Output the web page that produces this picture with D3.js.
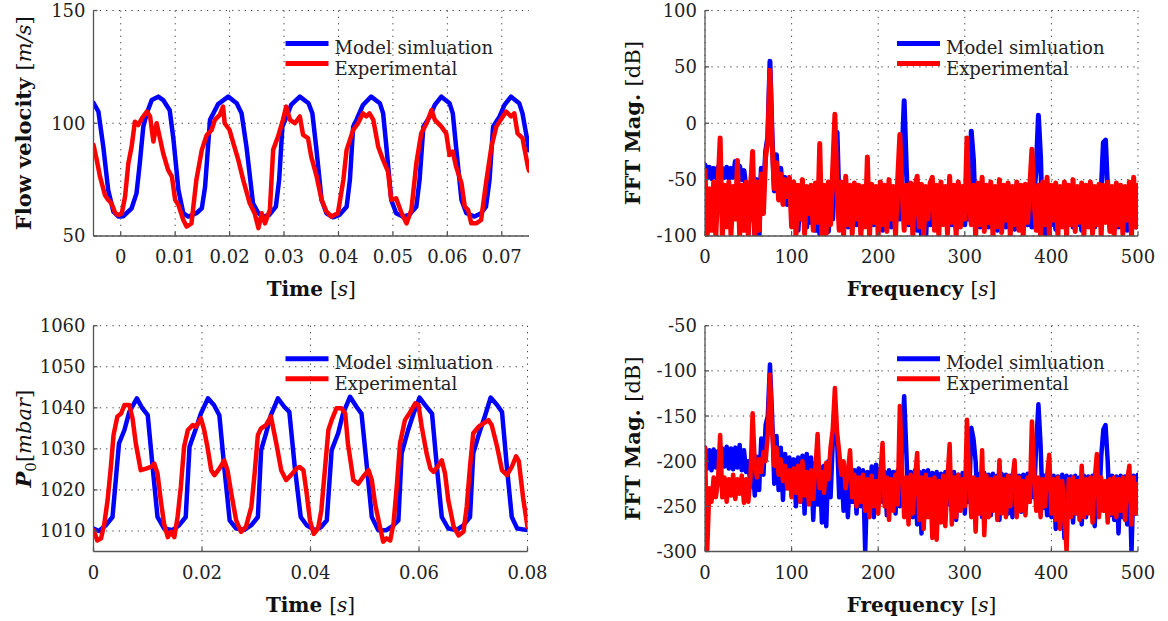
<!DOCTYPE html>
<html><head><meta charset="utf-8">
<script src="https://cdn.jsdelivr.net/npm/d3@7"></script>
<style>body{margin:0;background:#fff}svg{display:block}</style>
</head><body>
<div id="graph"></div>
<script>
"use strict"
// flow velocity traces, [time ms, m/s]
var velModel=[[-5,109],[-4.1,105.2],[-3.2,89.6],[-2.3,70.4],[-1.35,60.8],[-0.4,58.6],[0.5,58.8],[2,62.3],[2.9,68.9],[3.5,82.2],[4.15,98.5],[4.8,104.4],[5.7,110.3],[6.9,111.8],[7.8,110.3],[9,105.8],[9.7,92.6],[10.6,70.4],[11.5,60.1],[12.4,58.6],[13.9,60.1],[14.9,62.3],[15.5,71.9],[16.4,101.5],[17.9,108.5],[19.75,111.8],[21.3,108.9],[22.2,104.4],[23.1,89.6],[24.3,64.5],[25.3,60.1],[26.2,58.6],[27.3,59.4],[28.5,63],[29.1,74.9],[29.7,98.5],[30.4,102.5],[31.3,108.1],[32.9,111.8],[34.5,108.9],[35.2,104.4],[35.9,89.6],[36.9,66],[37.8,60.1],[39,58.3],[40.2,59.4],[41.5,63],[42.1,74.9],[42.7,98.5],[43.3,101.5],[44.5,108.1],[46,111.8],[47.6,108.9],[48.2,104.4],[48.8,89.6],[49.7,66],[50.6,60.1],[51.8,58.6],[53,59.4],[54.3,63],[54.9,74.9],[55.6,98.5],[56.8,103],[57.7,108.1],[58.9,111.8],[60.4,108.9],[61,104.4],[61.6,89.6],[62.6,66],[63.5,60.1],[65,58.6],[66.2,60.1],[67.1,63],[67.75,74.9],[68.4,98.5],[69.6,103],[70.5,108.1],[71.7,111.8],[73.2,108.9],[73.8,104.4],[74.8,91],[75,88]]
var velExp=[[-5,90.4],[-4.4,83.7],[-3.8,76.3],[-2.9,68.2],[-2.3,66],[-1.7,64.5],[-1,60.1],[-0.4,59.3],[0.2,60.1],[0.8,67.5],[1.4,82.2],[2,89.6],[2.6,100.7],[3.2,99.2],[3.9,102.2],[4.8,105.2],[5.4,103],[6,91.9],[6.6,100],[7.2,93.4],[7.8,86.7],[8.7,79.3],[9.4,76.3],[10,66],[10.6,63.7],[11.5,57.1],[12.1,54.2],[13,55.6],[13.9,74.9],[14.9,88.2],[15.8,94.8],[16.7,97],[17.3,101.5],[18.2,103.7],[18.8,107.4],[19.1,100],[20,97],[20.7,91.1],[21.6,83.7],[22.5,74.9],[23.7,64.5],[24.6,60.1],[25.3,53.5],[25.9,60.1],[26.5,55.6],[27.4,61.6],[28,88.2],[28.9,94.1],[29.8,101.5],[30.4,107.4],[31.1,101.5],[32,100],[32.9,103],[33.5,94.8],[34.4,93.4],[35,85.2],[36,76.3],[36.9,66],[37.8,60.8],[38.7,58.6],[39.9,60.1],[40.9,74.9],[41.5,88.2],[42.7,97],[43.6,100],[44.5,104.4],[45.1,103],[45.7,104.4],[46.4,101.5],[47.3,89.6],[48.2,83.7],[49.1,78.5],[49.7,66],[50.6,66.7],[51.6,60.1],[52.5,55.6],[53.4,61.6],[54.3,82.2],[55.2,95.5],[56.2,100],[57.1,105.9],[57.7,101.5],[58.9,98.5],[59.8,95.5],[60.4,85.9],[61,87.4],[61.6,80.8],[62.6,73.4],[63.2,63],[63.8,61.6],[64.4,55.6],[65.3,55.6],[66.2,57.1],[67.1,73.4],[68.1,89.6],[69,98.5],[70.2,103],[70.8,105.2],[71.7,103],[72.3,104.4],[72.9,95.5],[73.8,93.4],[74.8,80.8],[75,79]]

// P0 traces, [time ms, mbar]
var presModel=[[0,1010.6],[1,1010],[2.3,1011.4],[3.5,1013.4],[4.7,1031.3],[5.7,1034.6],[6.6,1039],[8,1042.3],[9,1039.9],[10,1038.2],[10.9,1025.6],[11.8,1013.4],[13,1010.6],[14.6,1010.2],[15.8,1011.4],[17,1013.4],[17.7,1030.5],[18.9,1035],[19.8,1038.6],[21.1,1042.3],[22.2,1040.7],[23.2,1038.2],[24.1,1025.6],[25.1,1012.6],[26.3,1010.6],[27.8,1010.3],[29.1,1011.4],[30.3,1013.4],[30.9,1029.7],[31.8,1033.8],[32.7,1038.2],[34,1042.3],[35.2,1040.2],[36.1,1039],[37.1,1025.6],[38.2,1013.4],[39.3,1011.4],[40.8,1010.2],[42,1011],[43,1012.6],[43.9,1029.7],[45.1,1033.8],[46,1038.6],[47.3,1042.7],[48.5,1040.2],[49.4,1038.6],[50.4,1025.6],[51.3,1013.4],[52.5,1010.2],[54,1010.2],[55.3,1011.4],[56.2,1012.6],[56.8,1028.9],[58,1034.6],[59,1038.6],[60.1,1042.5],[61.1,1040.7],[62.4,1038.6],[63.3,1025.6],[64.2,1013.4],[65.4,1010.6],[66.9,1010.2],[68.2,1011.4],[69.4,1013.4],[70,1028.9],[71,1033.4],[72.2,1038.2],[73.2,1042.5],[74.4,1040.7],[75.3,1039],[76.2,1025.6],[77.1,1013.4],[78.1,1010.6],[80,1010.2]]
var presExp=[[0,1010.2],[0.7,1007.7],[1.4,1008.2],[2,1011.8],[2.6,1017.5],[3.2,1025.6],[3.7,1033.4],[4.4,1037.9],[5.1,1038.6],[5.7,1040.7],[6.6,1040.7],[7.2,1037.4],[7.8,1031.3],[8.7,1024.8],[9.7,1025.2],[10.6,1025.6],[11.2,1026.4],[11.8,1024],[12.4,1017.5],[13,1011.8],[13.7,1008.5],[14.3,1009.8],[14.9,1008.5],[15.5,1013.4],[16.1,1020.8],[16.7,1030.5],[17.4,1034.6],[18.3,1035.8],[18.9,1035.4],[19.8,1037.4],[20.4,1034.6],[21,1030.5],[21.7,1024.8],[22.3,1023.6],[23.2,1025.2],[24.1,1027.2],[24.7,1024.8],[25.4,1019.1],[26.3,1012.6],[27.2,1009.8],[28.1,1011],[29.1,1015.9],[29.7,1024],[30.3,1033.4],[30.9,1035],[31.8,1035.8],[32.7,1037.9],[33.7,1031.3],[34.6,1024.8],[35.5,1022.4],[36.4,1023.6],[37.4,1025.2],[38,1025.6],[38.7,1024.8],[39.3,1019.1],[39.9,1012.6],[40.6,1009.3],[41.4,1010.6],[42,1015.1],[42.7,1025.6],[43.3,1034.6],[43.9,1037],[44.8,1039.9],[45.7,1039.9],[46.4,1038.6],[46.9,1031.3],[47.9,1022.4],[48.8,1021.5],[49.7,1023.2],[50.7,1024.8],[51.3,1022.4],[51.9,1016.7],[52.8,1011],[53.4,1007.4],[54,1008.2],[54.7,1007.7],[55.3,1011.8],[55.9,1020.8],[56.5,1031.3],[57.4,1037],[58.4,1039],[59.3,1041.1],[59.9,1040.7],[60.5,1035.4],[61.4,1028.9],[62.1,1025.2],[62.7,1024.4],[63.4,1025.6],[64.2,1027.2],[64.8,1024],[65.4,1017.5],[66.4,1011],[67.3,1008.9],[68.2,1009.8],[68.8,1015.9],[69.4,1025.6],[70,1033.8],[71,1035.4],[71.9,1036.2],[72.8,1037],[73.4,1035.8],[74.4,1030.5],[75.3,1024.8],[76.2,1023.6],[77.1,1025.6],[77.9,1028.2],[78.4,1027],[79.2,1018],[80,1011]]

// FFT magnitudes in dB, one value every fftStep Hz from 0 to 500
var fftStep=2.5
var fftVelModel=[-37,-48,-39,-49,-40,-48,-39,-49,-40,-48,
-39,-49,-40,-48,-34,-48,-38,-50,-42,-58,
-60,-85,-58,-100,-50,-100,-40,-62,-25,-12,
55,-12,-60,-28,-65,-40,-68,-48,-72,-55,
-60,-90,-62,-95,-58,-85,-65,-92,-60,-88,
-62,-95,-60,-98,-65,-92,-60,-96,-58,-85,
-40,-8,-75,-60,-90,-58,-92,-60,-88,-62,
-90,-60,-95,-62,-88,-58,-92,-60,-90,-63,
-88,-60,-95,-58,-90,-62,-92,-60,-88,-62,
-85,-30,20,-40,-90,-60,-92,-58,-95,-62,
-100,-65,-100,-60,-90,-62,-92,-58,-90,-62,
-88,-60,-92,-60,-90,-62,-94,-60,-88,-58,
-90,-60,-85,-7,-32,-90,-60,-92,-62,-90,
-60,-92,-62,-88,-58,-95,-60,-90,-62,-92,
-60,-90,-58,-94,-62,-88,-60,-92,-62,-90,
-60,-92,-62,-40,7,-30,-100,-62,-100,-60,
-90,-62,-94,-58,-90,-60,-92,-62,-88,-60,
-92,-60,-90,-62,-95,-58,-90,-62,-88,-60,
-92,-62,-90,-60,-17,-15,-60,-92,-62,-90,
-60,-92,-62,-88,-58,-95,-60,-90,-62,-92,
-60]
var fftVelExp=[-42,-100,-58,-95,-52,-100,-55,-13,-100,-55,
-92,-52,-100,-56,-85,-33,-100,-55,-95,-52,
-100,-57,-25,-100,-52,-95,-45,-80,-30,-15,
47,-18,-58,-35,-68,-45,-72,-50,-65,-48,
-92,-52,-100,-55,-85,-50,-98,-56,-80,-55,
-95,-53,-88,-18,-100,-55,-98,-52,-90,-40,
8,-60,-95,-52,-100,-47,-90,-55,-98,-53,
-85,-55,-100,-56,-92,-30,-100,-54,-88,-56,
-100,-52,-90,-55,-96,-50,-85,-56,-100,-50,
-10,-60,-95,-55,-88,-53,-100,-56,-47,-92,
-54,-100,-56,-85,-53,-48,-95,-55,-100,-52,
-90,-56,-98,-47,-88,-55,-100,-52,-92,-56,
-85,-13,-70,-90,-55,-100,-53,-90,-48,-96,
-55,-88,-52,-100,-56,-92,-50,-97,-55,-86,
-53,-100,-56,-90,-52,-95,-55,-100,-54,-88,
-57,-23,-70,-95,-55,-100,-52,-90,-48,-98,
-55,-86,-53,-100,-56,-92,-52,-100,-55,-90,
-50,-96,-56,-88,-53,-100,-55,-92,-52,-98,
-56,-90,-54,-100,-55,-88,-52,-96,-56,-100,
-53,-90,-55,-98,-56,-86,-52,-100,-48,-92,
-55]
var fftPresModel=[-185,-208,-188,-210,-187,-207,-189,-209,-186,-206,
-184,-208,-186,-209,-185,-207,-182,-210,-188,-212,
-200,-228,-205,-238,-195,-232,-175,-215,-160,-150,
-93,-150,-225,-172,-232,-185,-243,-192,-230,-196,
-238,-198,-250,-196,-245,-194,-258,-192,-240,-196,
-265,-202,-248,-206,-268,-205,-272,-200,-240,-180,
-147,-175,-240,-205,-255,-208,-262,-206,-245,-210,
-258,-208,-250,-210,-300,-212,-255,-206,-262,-204,
-250,-208,-245,-212,-260,-210,-248,-212,-258,-210,
-250,-182,-128,-190,-255,-212,-262,-210,-270,-212,
-280,-211,-262,-210,-248,-213,-258,-212,-250,-214,
-262,-212,-248,-214,-255,-212,-265,-215,-250,-213,
-258,-214,-245,-163,-175,-200,-255,-214,-262,-213,
-248,-215,-260,-214,-252,-216,-265,-214,-250,-215,
-258,-216,-262,-214,-248,-216,-256,-215,-250,-214,
-245,-212,-240,-180,-137,-182,-252,-216,-260,-215,
-262,-216,-275,-217,-258,-215,-285,-216,-262,-217,
-268,-216,-258,-218,-270,-216,-262,-217,-255,-216,
-272,-218,-250,-195,-165,-160,-200,-260,-216,-265,
-217,-280,-216,-262,-217,-270,-215,-300,-216,-258,
-215]
var fftPresExp=[-185,-300,-230,-245,-218,-240,-222,-171,-240,-218,
-245,-220,-238,-215,-242,-220,-236,-216,-246,-220,
-245,-218,-147,-205,-218,-198,-212,-190,-200,-170,
-104,-165,-205,-185,-215,-198,-222,-205,-230,-210,
-240,-208,-235,-205,-245,-200,-238,-212,-248,-210,
-242,-208,-170,-230,-212,-235,-202,-220,-185,-165,
-119,-168,-190,-215,-200,-230,-212,-188,-240,-215,
-250,-218,-245,-215,-255,-220,-262,-216,-250,-222,
-258,-215,-180,-250,-218,-265,-220,-255,-215,-248,
-139,-210,-262,-218,-270,-215,-258,-220,-191,-265,
-218,-275,-215,-262,-220,-285,-218,-287,-222,-268,
-216,-272,-220,-181,-270,-218,-262,-215,-255,-220,
-250,-154,-215,-262,-218,-278,-220,-258,-188,-282,
-216,-262,-220,-255,-218,-265,-199,-258,-220,-262,
-216,-250,-220,-199,-262,-218,-255,-222,-260,-218,
-245,-156,-210,-255,-218,-262,-220,-250,-216,-193,
-258,-220,-265,-218,-275,-222,-255,-300,-220,-262,
-218,-258,-222,-265,-205,-262,-220,-258,-218,-268,
-220,-192,-262,-218,-255,-222,-268,-220,-258,-218,
-262,-220,-255,-218,-265,-222,-205,-270,-218,-258,
-225]

// tick values
var velTimeTicks=[0,0.01,0.02,0.03,0.04,0.05,0.06,0.07]
var velTicks=[50,100,150]
var presTimeTicks=[0,0.02,0.04,0.06,0.08]
var presTicks=[1010,1020,1030,1040,1050,1060]
var freqTicks=[0,100,200,300,400,500]
var fftVelTicks=[-100,-50,0,50,100]
var fftPresTicks=[-300,-250,-200,-150,-100,-50]
var legendNames=['Model simluation','Experimental']

var BLUE='#0000ff',RED='#ff0000'
var FONT='DejaVu Serif'

var svg=d3.select('#graph').append('svg').attr('width',1168).attr('height',621)

// time series read in ms
function msX(x){return function(d){return x(d[0]/1000)}}
function pairY(y){return function(d){return y(d[1])}}
// spectra on a regular grid
function fftX(x){return function(d,i){return x(i*fftStep)}}
function valY(y){return function(d){return y(d)}}

function drawPanel(p){
  var g=svg.append('g')
  var x=d3.scaleLinear().domain(p.xDomain).range([p.left,p.right])
  var y=d3.scaleLinear().domain(p.yDomain).range([p.bottom,p.top])

  // dotted grid
  var grid=g.append('g').attr('stroke','#444').attr('stroke-width',1).attr('stroke-dasharray','1.3,5')
  p.xTicks.forEach(function(t){
    grid.append('line').attr('x1',x(t)).attr('x2',x(t)).attr('y1',p.top).attr('y2',p.bottom)
  })
  p.yTicks.forEach(function(t){
    grid.append('line').attr('x1',p.left).attr('x2',p.right).attr('y1',y(t)).attr('y2',y(t))
  })

  g.append('clipPath').attr('id','clip'+p.id).append('rect')
    .attr('x',p.left).attr('y',p.top).attr('width',p.right-p.left).attr('height',p.bottom-p.top)
  var plot=g.append('g').attr('clip-path','url(#clip'+p.id+')')
  p.series.forEach(function(s){
    var line=d3.line().x(p.fx(x)).y(p.fy(y))
    plot.append('path').datum(s.data).attr('d',line)
      .attr('fill','none').attr('stroke',s.color).attr('stroke-width',p.lw)
      .attr('stroke-linejoin','round').attr('stroke-linecap','round')
  })

  // axes (left and bottom only)
  var ax=g.append('g').attr('stroke','#555').attr('stroke-width',1.3)
  ax.append('line').attr('x1',p.left).attr('x2',p.left).attr('y1',p.top).attr('y2',p.bottom)
  ax.append('line').attr('x1',p.left).attr('x2',p.right).attr('y1',p.bottom).attr('y2',p.bottom)
  p.xTicks.forEach(function(t){
    ax.append('line').attr('x1',x(t)).attr('x2',x(t)).attr('y1',p.bottom).attr('y2',p.bottom-4)
  })
  p.yTicks.forEach(function(t){
    ax.append('line').attr('x1',p.left).attr('x2',p.left+4).attr('y1',y(t)).attr('y2',y(t))
  })

  var txt=g.append('g').attr('font-family',FONT).attr('fill','#222')
  p.xTicks.forEach(function(t){
    txt.append('text').attr('x',x(t)).attr('y',p.bottom+27).attr('text-anchor','middle')
      .attr('font-size',18).text(String(t))
  })
  p.yTicks.forEach(function(t){
    txt.append('text').attr('x',p.left-8).attr('y',y(t)).attr('dy','0.36em').attr('text-anchor','end')
      .attr('font-size',18).text(String(t))
  })

  // x label
  var xl=txt.append('text').attr('x',(p.left+p.right)/2).attr('y',p.bottom+60)
    .attr('text-anchor','middle').attr('font-size',20).attr('fill','#111')
  xl.append('tspan').attr('font-weight','bold').text(p.xLabel+' ')
  xl.append('tspan').text('[')
  xl.append('tspan').attr('font-style','italic').text('s')
  xl.append('tspan').text(']')

  // y label
  var yl=txt.append('text').attr('transform','translate('+p.yLabelX+','+(p.top+p.bottom)/2+')rotate(-90)')
    .attr('text-anchor','middle').attr('font-size',21).attr('fill','#111')
  p.yLabel(yl)

  // legend
  var lx=p.left+192,ly=p.top+33
  legendNames.forEach(function(n,i){
    var c=i==0?BLUE:RED
    g.append('line').attr('x1',lx).attr('x2',lx+43).attr('y1',ly+i*20).attr('y2',ly+i*20)
      .attr('stroke',c).attr('stroke-width',5)
    txt.append('text').attr('x',lx+49).attr('y',ly+i*20+(i==0?10:11)).attr('font-size',18).text(n)
  })
}

drawPanel({id:1,left:93.5,right:529,top:10.5,bottom:236,xDomain:[-0.005,0.075],yDomain:[50,150],
  xTicks:velTimeTicks,yTicks:velTicks,fx:msX,fy:pairY,lw:4.5,
  series:[{data:velModel,color:BLUE},{data:velExp,color:RED}],
  xLabel:'Time',yLabelX:31,
  yLabel:function(t){
    t.append('tspan').attr('font-weight','bold').text('Flow velocity ')
    t.append('tspan').text('[')
    t.append('tspan').attr('font-style','italic').text('m/s')
    t.append('tspan').text(']')
  }})

drawPanel({id:2,left:705,right:1138,top:10.5,bottom:236,xDomain:[0,500],yDomain:[-100,100],
  xTicks:freqTicks,yTicks:fftVelTicks,fx:fftX,fy:valY,lw:5,
  series:[{data:fftVelModel,color:BLUE},{data:fftVelExp,color:RED}],
  xLabel:'Frequency',yLabelX:640,
  yLabel:function(t){
    t.append('tspan').attr('font-weight','bold').text('FFT Mag. ')
    t.append('tspan').text('[dB]')
  }})

drawPanel({id:3,left:93.5,right:527.5,top:325.7,bottom:551.5,xDomain:[0,0.08],yDomain:[1005,1060],
  xTicks:presTimeTicks,yTicks:presTicks,fx:msX,fy:pairY,lw:4.5,
  series:[{data:presModel,color:BLUE},{data:presExp,color:RED}],
  xLabel:'Time',yLabelX:31,
  yLabel:function(t){
    t.append('tspan').attr('font-weight','bold').attr('font-style','italic').text('P')
    t.append('tspan').attr('font-size',15).attr('dy',5).text('0')
    t.append('tspan').attr('dy',-5).text('[')
    t.append('tspan').attr('font-style','italic').text('mbar')
    t.append('tspan').text(']')
  }})

drawPanel({id:4,left:705,right:1138,top:325.7,bottom:551.5,xDomain:[0,500],yDomain:[-300,-50],
  xTicks:freqTicks,yTicks:fftPresTicks,fx:fftX,fy:valY,lw:4.5,
  series:[{data:fftPresModel,color:BLUE},{data:fftPresExp,color:RED}],
  xLabel:'Frequency',yLabelX:640,
  yLabel:function(t){
    t.append('tspan').attr('font-weight','bold').text('FFT Mag. ')
    t.append('tspan').text('[dB]')
  }})
</script>
</body></html>
